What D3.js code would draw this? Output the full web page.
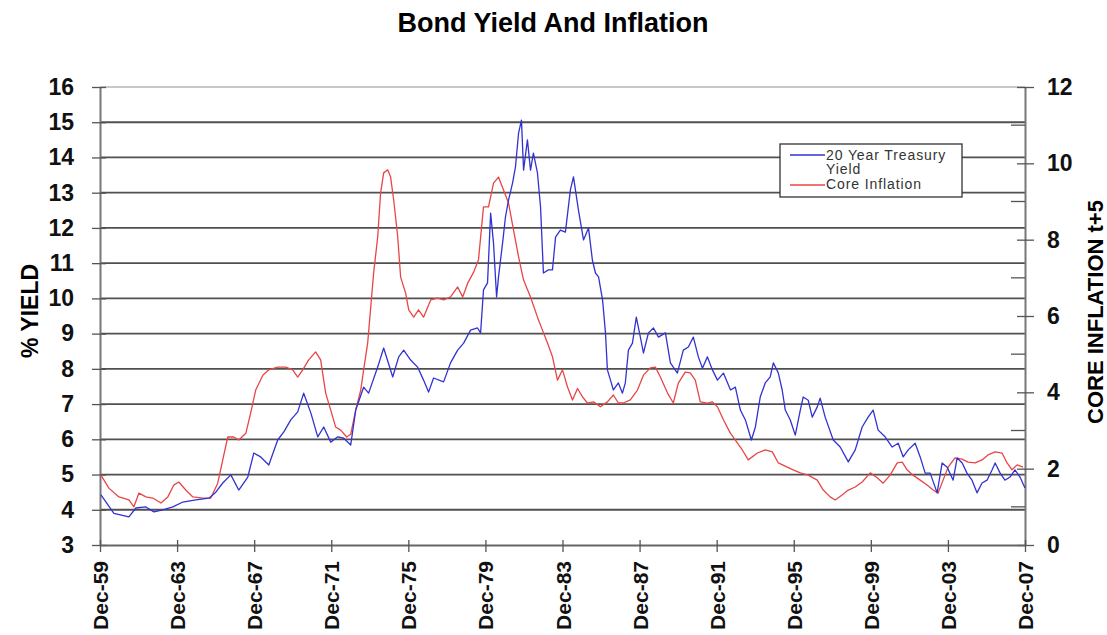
<!doctype html>
<html>
  <head>
    <meta charset="utf-8">
    <title>Bond Yield And Inflation</title>
    <script src="https://cdnjs.cloudflare.com/ajax/libs/d3/7.8.5/d3.min.js"></script>
    <style>
      body { margin: 0; background: #fff; }
      svg { font-family: "Liberation Sans", Arial, sans-serif; }
    </style>
  </head>
  <body>
    <div id="chart"></div>
    <script>
      // dates are decimal years (Dec-59 = 1959.92)
      const yieldDates = [1959.97,1960.64,1961.42,1961.78,1962.30,1962.72,1963.18,1963.70,1964.22,1964.89,1965.57,1965.93,1966.29,1966.71,1967.12,1967.59,1967.90,1968.26,1968.68,1969.14,1969.46,1969.82,1970.18,1970.49,1970.86,1971.22,1971.53,1971.89,1972.26,1972.57,1972.93,1973.19,1973.60,1973.86,1974.33,1974.64,1975.11,1975.42,1975.68,1976.04,1976.40,1976.71,1976.97,1977.23,1977.75,1978.11,1978.48,1978.79,1979.15,1979.51,1979.67,1979.82,1980.03,1980.19,1980.34,1980.50,1980.60,1980.81,1980.96,1981.12,1981.33,1981.48,1981.64,1981.79,1981.90,1982.10,1982.26,1982.41,1982.62,1982.78,1982.93,1983.19,1983.40,1983.56,1983.81,1984.07,1984.33,1984.49,1984.75,1985.01,1985.27,1985.47,1985.63,1985.79,1986.00,1986.15,1986.25,1986.41,1986.56,1986.82,1987.03,1987.18,1987.34,1987.55,1987.75,1987.96,1988.12,1988.38,1988.64,1988.90,1989.26,1989.52,1989.88,1990.19,1990.45,1990.71,1990.97,1991.18,1991.44,1991.70,1991.96,1992.27,1992.64,1992.89,1993.15,1993.41,1993.72,1993.93,1994.18,1994.44,1994.70,1994.86,1995.12,1995.32,1995.48,1995.74,1996.00,1996.26,1996.41,1996.67,1996.88,1997.14,1997.29,1997.55,1997.97,1998.33,1998.75,1999.11,1999.47,1999.78,2000.04,2000.30,2000.66,2001.03,2001.34,2001.60,2001.86,2002.22,2002.48,2002.74,2003.00,2003.36,2003.62,2003.88,2004.19,2004.40,2004.66,2004.91,2005.17,2005.43,2005.69,2005.95,2006.21,2006.37,2006.63,2006.88,2007.14,2007.40,2007.66,2007.92];
      const yieldVals = [4.42,3.90,3.80,4.05,4.08,3.94,4.00,4.08,4.22,4.28,4.33,4.50,4.76,4.99,4.56,4.93,5.61,5.50,5.27,5.98,6.21,6.55,6.78,7.31,6.75,6.07,6.35,5.92,6.07,6.03,5.84,6.83,7.48,7.31,8.05,8.59,7.77,8.34,8.53,8.25,8.05,7.68,7.34,7.74,7.63,8.17,8.53,8.73,9.10,9.16,9.02,10.24,10.44,12.42,11.57,10.04,10.61,11.57,12.31,12.79,13.28,13.73,14.69,15.06,13.64,14.50,13.64,14.12,13.56,12.60,10.72,10.81,10.81,11.74,11.94,11.88,13.08,13.45,12.50,11.66,12.00,11.09,10.72,10.61,9.95,9.02,7.97,7.68,7.40,7.60,7.31,7.60,8.53,8.73,9.47,8.90,8.45,9.02,9.16,8.90,9.02,8.17,7.88,8.53,8.62,8.90,8.34,8.02,8.34,7.97,7.68,7.88,7.40,7.48,6.83,6.55,5.98,6.35,7.20,7.60,7.77,8.17,7.88,7.40,6.83,6.55,6.12,6.83,7.20,7.11,6.63,6.92,7.17,6.63,5.98,5.78,5.36,5.70,6.35,6.63,6.83,6.26,6.07,5.78,5.89,5.50,5.70,5.89,5.50,5.04,5.04,4.48,5.33,5.21,4.84,5.47,5.33,5.04,4.84,4.48,4.76,4.84,5.13,5.33,5.04,4.84,4.93,5.13,4.93,4.62];

      const inflDates = [1959.97,1960.38,1960.90,1961.42,1961.68,1961.94,1962.30,1962.66,1963.08,1963.44,1963.75,1964.01,1964.37,1964.74,1965.26,1965.67,1966.03,1966.29,1966.55,1966.86,1967.12,1967.49,1967.74,1968.00,1968.37,1968.68,1969.14,1969.56,1969.92,1970.18,1970.44,1970.75,1971.11,1971.37,1971.63,1971.89,1972.15,1972.41,1972.72,1972.93,1973.19,1973.45,1973.60,1973.81,1973.97,1974.12,1974.33,1974.48,1974.64,1974.85,1975.00,1975.16,1975.37,1975.52,1975.78,1975.94,1976.20,1976.45,1976.71,1977.08,1977.44,1977.75,1978.11,1978.48,1978.74,1979.00,1979.31,1979.56,1979.82,1980.08,1980.34,1980.60,1980.86,1981.12,1981.38,1981.64,1981.90,1982.26,1982.62,1982.88,1983.14,1983.40,1983.66,1983.92,1984.18,1984.44,1984.70,1984.96,1985.21,1985.53,1985.89,1986.25,1986.56,1986.82,1987.08,1987.44,1987.81,1988.12,1988.48,1988.74,1989.00,1989.37,1989.67,1989.93,1990.29,1990.55,1990.81,1991.07,1991.44,1991.70,1991.96,1992.27,1992.63,1992.89,1993.25,1993.56,1994.03,1994.44,1994.81,1995.12,1995.58,1995.89,1996.26,1996.67,1997.14,1997.45,1997.81,1998.07,1998.43,1998.75,1999.11,1999.47,1999.89,2000.25,2000.56,2000.92,2001.29,2001.55,2001.80,2002.11,2002.48,2002.84,2003.15,2003.41,2003.67,2003.93,2004.29,2004.65,2004.97,2005.33,2005.69,2006.00,2006.37,2006.73,2006.99,2007.25,2007.51,2007.82];
      const inflVals = [1.83,1.49,1.26,1.18,1.00,1.36,1.26,1.23,1.10,1.26,1.57,1.65,1.44,1.26,1.23,1.23,1.62,2.23,2.83,2.83,2.75,2.93,3.46,4.06,4.45,4.59,4.66,4.66,4.59,4.40,4.59,4.85,5.06,4.85,3.98,3.54,3.09,3.01,2.83,2.90,3.54,4.06,4.59,5.29,6.24,7.13,8.07,9.22,9.75,9.83,9.64,9.04,8.07,7.02,6.60,6.16,5.97,6.16,5.97,6.42,6.47,6.42,6.50,6.76,6.50,6.86,7.15,7.47,8.86,8.86,9.48,9.64,9.30,8.96,8.25,7.55,6.94,6.50,5.97,5.63,5.29,4.93,4.32,4.59,4.14,3.80,4.10,3.88,3.72,3.75,3.62,3.75,3.93,3.72,3.72,3.80,4.06,4.45,4.64,4.66,4.40,3.98,3.72,4.24,4.53,4.51,4.32,3.75,3.72,3.75,3.62,3.28,2.93,2.75,2.49,2.23,2.41,2.49,2.44,2.15,2.04,1.97,1.89,1.83,1.70,1.44,1.26,1.18,1.31,1.44,1.52,1.65,1.89,1.76,1.62,1.83,2.15,2.17,1.97,1.83,1.70,1.57,1.44,1.36,1.70,2.04,2.28,2.25,2.17,2.15,2.23,2.36,2.44,2.41,2.15,1.97,2.10,2.04];

      const xTickYears = [1959.92,1963.92,1967.92,1971.92,1975.92,1979.92,1983.92,1987.92,1991.92,1995.92,1999.92,2003.92,2007.92];
      const xTickLabels = ["Dec-59","Dec-63","Dec-67","Dec-71","Dec-75","Dec-79","Dec-83","Dec-87","Dec-91","Dec-95","Dec-99","Dec-03","Dec-07"];
      const yieldTicks = [3,4,5,6,7,8,9,10,11,12,13,14,15,16];
      const inflTicks = [0,2,4,6,8,10,12];
      const inflMinor = [1,3,5,7,9,11];
      const seriesNames = ["20 Year Treasury", "Core Inflation"];

      const W = 1107, H = 635;
      const plotL = 100, plotR = 1025, plotT = 87, plotB = 545;
      const blue = "#3232d2", red = "#e84646";

      const svg = d3.select("#chart").append("svg")
        .attr("width", W).attr("height", H);

      const x = d3.scaleLinear().domain([1959.92, 2007.92]).range([plotL, plotR]);
      const yL = d3.scaleLinear().domain([3, 16]).range([plotB, plotT]);
      const yR = d3.scaleLinear().domain([0, 12]).range([plotB, plotT]);

      // title
      svg.append("text")
        .attr("x", 553).attr("y", 32)
        .attr("text-anchor", "middle")
        .style("font-size", "27px").style("font-weight", "bold")
        .text("Bond Yield And Inflation");

      // grid lines
      svg.append("g").selectAll("line")
        .data(yieldTicks.filter(d => d > 3))
        .join("line")
        .attr("x1", plotL).attr("x2", plotR)
        .attr("y1", d => yL(d)).attr("y2", d => yL(d))
        .attr("stroke", d => d == 16 ? "#c8c8c8" : "#505050")
        .attr("stroke-width", 1.8);

      // left axis
      const axL = svg.append("g")
        .attr("transform", `translate(${plotL},0)`)
        .call(d3.axisLeft(yL).tickValues(yieldTicks).tickSize(8).tickPadding(18).tickSizeOuter(0));
      axL.selectAll(".tick line").attr("x2", -8).attr("x1", 6).attr("stroke", "#555").attr("stroke-width", 1.3);
      axL.select(".domain").attr("stroke", "#777").attr("stroke-width", 2);
      axL.selectAll("text").style("font-size", "23px").style("font-weight", "bold").attr("fill", "#111");

      // right axis
      const axR = svg.append("g")
        .attr("transform", `translate(${plotR},0)`)
        .call(d3.axisRight(yR).tickValues(inflTicks).tickSize(8).tickPadding(14).tickSizeOuter(0));
      axR.selectAll(".tick line").attr("x1", -8).attr("x2", 9).attr("stroke", "#555").attr("stroke-width", 1.3);
      axR.select(".domain").attr("stroke", "#777").attr("stroke-width", 2);
      axR.selectAll("text").style("font-size", "23px").style("font-weight", "bold").attr("fill", "#111");
      axR.append("g").selectAll("line")
        .data(inflMinor)
        .join("line")
        .attr("x1", -14).attr("x2", 0)
        .attr("y1", d => yR(d)).attr("y2", d => yR(d))
        .attr("stroke", "#555").attr("stroke-width", 1.3);

      // bottom axis
      const axB = svg.append("g")
        .attr("transform", `translate(0,${plotB})`)
        .call(d3.axisBottom(x).tickValues(xTickYears).tickFormat((d, i) => xTickLabels[i]).tickSize(7).tickSizeOuter(0));
      axB.selectAll(".tick line").attr("y1", -5).attr("stroke", "#555").attr("stroke-width", 1.3);
      axB.select(".domain").attr("stroke", "#666").attr("stroke-width", 2);
      axB.selectAll("text")
        .attr("transform", "rotate(-90)")
        .attr("text-anchor", "end")
        .attr("x", -16).attr("y", 0).attr("dy", "0.36em")
        .style("font-size", "21px").style("font-weight", "bold").attr("fill", "#111");

      // axis titles
      svg.append("text")
        .attr("transform", "translate(38,311) rotate(-90)")
        .attr("text-anchor", "middle")
        .style("font-size", "23px").style("font-weight", "bold")
        .text("% YIELD");
      svg.append("text")
        .attr("transform", "translate(1103,312) rotate(-90)")
        .attr("text-anchor", "middle")
        .style("font-size", "22px").style("font-weight", "bold")
        .text("CORE INFLATION t+5");

      // lines
      const lineL = d3.line().x(d => x(d[0])).y(d => yL(d[1]));
      const lineR = d3.line().x(d => x(d[0])).y(d => yR(d[1]));

      svg.append("path")
        .datum(d3.zip(inflDates, inflVals))
        .attr("d", lineR)
        .attr("fill", "none").attr("stroke", red).attr("stroke-width", 1.3)
        .attr("stroke-linejoin", "round");

      svg.append("path")
        .datum(d3.zip(yieldDates, yieldVals))
        .attr("d", lineL)
        .attr("fill", "none").attr("stroke", blue).attr("stroke-width", 1.3)
        .attr("stroke-linejoin", "round");

      // legend
      const lg = svg.append("g").attr("transform", "translate(780,144)");
      lg.append("rect")
        .attr("width", 182).attr("height", 53)
        .attr("fill", "#fff").attr("stroke", "#333").attr("stroke-width", 1.3);
      lg.append("line").attr("x1", 10).attr("x2", 45).attr("y1", 11).attr("y2", 11)
        .attr("stroke", blue).attr("stroke-width", 1.3);
      lg.append("line").attr("x1", 10).attr("x2", 45).attr("y1", 41).attr("y2", 41)
        .attr("stroke", red).attr("stroke-width", 1.3);
      const lgText = lg.append("g")
        .style("font-size", "14px").style("letter-spacing", "0.9px").attr("fill", "#333");
      lgText.append("text").attr("x", 46).attr("y", 16).text(seriesNames[0]);
      lgText.append("text").attr("x", 46).attr("y", 30).text("Yield");
      lgText.append("text").attr("x", 46).attr("y", 45).text(seriesNames[1]);
    </script>
  </body>
</html>
